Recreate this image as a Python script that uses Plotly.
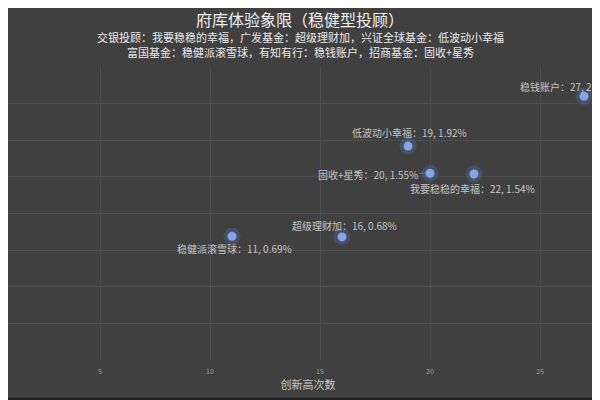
import plotly.graph_objects as go

# 稳健型投顾：创新高次数 vs 收益
products = ["稳钱账户", "低波动小幸福", "固收+星秀", "我要稳稳的幸福", "超级理财加", "稳健派滚雪球"]
new_highs = [27, 19, 20, 22, 16, 11]
returns = [2.60, 1.92, 1.55, 1.54, 0.68, 0.69]

x_ticks = [5, 10, 15, 20, 25]

title = "府库体验象限（稳健型投顾）"
subtitle_1 = "交银投顾：我要稳稳的幸福，广发基金：超级理财加，兴证全球基金：低波动小幸福"
subtitle_2 = "富国基金：稳健派滚雪球，有知有行：稳钱账户，招商基金：固收+星秀"

# 标签相对点的像素偏移（仅样式）
label_offsets = [(-17, -10), (1, -14), (-62, 1), (-2, 15), (2, -11), (2, 12)]

FONT = "Noto Sans CJK SC"
BG = "#404040"

fig = go.Figure()

# 光晕
fig.add_trace(go.Scatter(
    x=new_highs, y=returns, mode="markers",
    marker=dict(size=17, color="rgba(95,135,225,0.22)", line=dict(width=0)),
    hoverinfo="skip", showlegend=False,
))
fig.add_trace(go.Scatter(
    x=new_highs, y=returns, mode="markers",
    marker=dict(size=9, color="#84a6e8", line=dict(width=0)),
    text=products,
    hovertemplate="%{text}: %{x}, %{y:.2f}%<extra></extra>",
    showlegend=False,
))

annotations = []
for name, x, y, (ax, ay) in zip(products, new_highs, returns, label_offsets):
    annotations.append(dict(
        x=x, y=y, xref="x", yref="y",
        text=f"{name}：{x}, {y:.2f}%",
        showarrow=True, arrowhead=0, arrowwidth=0.8, arrowcolor="#8a8a8a",
        standoff=5, ax=ax, ay=ay,
        font=dict(family=FONT, size=10, color="#c4c4c4"),
    ))

# 标题 + 副标题
for text, yy, size, color in [(title, 1.1638, 16, "#eeeeee"),
                              (subtitle_1, 1.102, 11, "#e8e8e8"),
                              (subtitle_2, 1.051, 11, "#e8e8e8")]:
    annotations.append(dict(
        x=0.5 - 8 / 600, y=yy, xref="paper", yref="paper", showarrow=False,
        text=text, xanchor="center", yanchor="middle",
        font=dict(family=FONT, size=size, color=color),
    ))

fig.update_layout(
    width=600, height=400,
    paper_bgcolor=BG, plot_bgcolor=BG,
    margin=dict(l=0, r=0, t=59, b=48, pad=0, autoexpand=False),
    annotations=annotations,
    font=dict(family=FONT, color="#cccccc"),
    shapes=[
        dict(type="line", xref="paper", yref="paper", x0=-0.01, x1=1.01, y0=-0.134, y1=-0.134,
             line=dict(color="#1e1e1e", width=3)),
    ],
)

fig.update_xaxes(
    range=[0.8182, 28.09], tickvals=x_ticks, automargin=False,
    showgrid=True, gridcolor="#4e4e4e", gridwidth=1,
    zeroline=False, showline=False, ticks="outside", ticklen=5, tickcolor="rgba(0,0,0,0)",
    tickfont=dict(family=FONT, size=7, color="#a0a0a0"),
    title=dict(text="创新高次数", standoff=4, font=dict(family=FONT, size=11, color="#c8c8c8")),
)
fig.update_yaxes(
    range=[-1, 3], dtick=0.5, automargin=False,
    showgrid=True, gridcolor="#4e4e4e", gridwidth=1,
    zeroline=False, showline=False, showticklabels=False, ticks="",
)

fig.write_html("out.html")
